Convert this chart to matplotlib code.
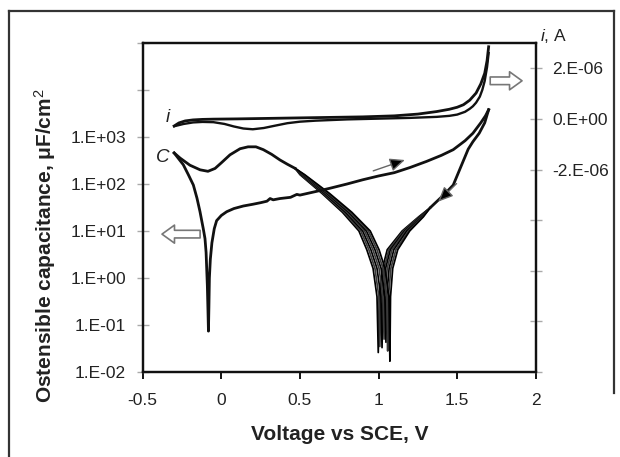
import matplotlib
matplotlib.use("Agg")
import matplotlib.pyplot as plt
from matplotlib.ticker import FixedLocator, FixedFormatter, NullLocator
from matplotlib.lines import Line2D

plt.rcParams['font.family'] = ['Liberation Sans', 'DejaVu Sans']
plt.rcParams['mathtext.fontset'] = 'custom'
plt.rcParams['mathtext.rm'] = 'Liberation Sans'
plt.rcParams['mathtext.it'] = 'Liberation Sans:italic'
plt.rcParams['mathtext.bf'] = 'Liberation Sans:bold'

# ---- capacitance, anodic sweep (-0.3 V -> 1.7 V), uF/cm2 ----
cap_fwd_v = [-0.30, -0.27, -0.242, -0.21, -0.178, -0.155, -0.136, -0.115, -0.104,
             -0.097, -0.089, -0.085, -0.082, -0.079, -0.076, -0.070, -0.060, -0.045,
             -0.030, 0.0, 0.034, 0.08, 0.14, 0.20, 0.25, 0.29, 0.31, 0.33, 0.373,
             0.44, 0.48, 0.50, 0.60, 0.69, 0.80, 0.90, 1.00, 1.10, 1.20, 1.305,
             1.40, 1.475, 1.55, 1.60, 1.65, 1.68, 1.70]
cap_fwd_c = [457, 339, 257, 158, 95, 50, 26, 11.2, 6.9,
             3.5, 0.69, 0.2, 0.074, 0.25, 1.0, 2.5, 5.6, 11.2,
             16.6, 21.4, 25.7, 30, 34, 37, 40, 43, 49, 46, 49,
             52, 60, 58, 69, 81, 100, 123, 148, 174, 224, 302,
             407, 537, 832, 1200, 2000, 2820, 3800]

# ---- capacitance, cathodic sweep: upper part (1.7 V -> 1.33 V) ----
cap_rev_top_v = [1.70, 1.675, 1.64, 1.60, 1.57, 1.53, 1.50, 1.475, 1.43, 1.39, 1.33]
cap_rev_top_c = [3800, 2000, 1200, 794, 550, 263, 151, 95, 66, 49, 31.6]

# ---- cathodic sweep, lower part (0.47 V -> -0.3 V) ----
cap_rev_low_v = [0.47, 0.42, 0.373, 0.32, 0.267, 0.22, 0.17, 0.119, 0.055, 0.0,
                 -0.04, -0.085, -0.135, -0.20, -0.262, -0.30]
cap_rev_low_c = [214, 263, 324, 427, 537, 617, 617, 562, 417, 282,
                 214, 186, 200, 251, 355, 457]

# ---- repeated cycles around the second minimum ----
cyc_right_c = [20, 10, 4.0, 1.6, 0.4]
cyc_right_v = [
    [1.255, 1.150, 1.055, 1.025, 1.005],
    [1.260, 1.157, 1.065, 1.035, 1.015],
    [1.265, 1.165, 1.075, 1.045, 1.028],
    [1.270, 1.172, 1.085, 1.055, 1.040],
    [1.275, 1.180, 1.097, 1.067, 1.052],
    [1.280, 1.190, 1.110, 1.078, 1.063],
    [1.285, 1.198, 1.122, 1.090, 1.076],
]
cyc_min_v = [0.998, 1.008, 1.022, 1.035, 1.047, 1.058, 1.072]
cyc_min_c = [0.026, 0.035, 0.033, 0.050, 0.043, 0.028, 0.017]
cyc_left_c = [0.4, 1.6, 4.0, 10, 25, 63, 158]
cyc_left_v = [
    [0.990, 0.965, 0.925, 0.875, 0.770, 0.640, 0.500],
    [1.002, 0.977, 0.938, 0.887, 0.780, 0.648, 0.505],
    [1.015, 0.990, 0.951, 0.899, 0.790, 0.656, 0.510],
    [1.028, 1.003, 0.964, 0.911, 0.800, 0.664, 0.515],
    [1.040, 1.016, 0.977, 0.923, 0.810, 0.672, 0.520],
    [1.052, 1.028, 0.990, 0.935, 0.820, 0.680, 0.525],
    [1.066, 1.041, 1.003, 0.947, 0.830, 0.688, 0.530],
]

# ---- current, A ----
cur_fwd_v = [-0.30, -0.27, -0.23, -0.18, -0.12, -0.05, 0.10, 0.30, 0.50, 0.70, 0.90,
             1.10, 1.25, 1.37, 1.45, 1.50, 1.54, 1.58, 1.62, 1.65, 1.675, 1.69, 1.70]
cur_fwd_i = [-0.28e-6, -0.16e-6, -0.08e-6, -0.04e-6, -0.02e-6, -0.01e-6, 0.0, 0.02e-6,
             0.04e-6, 0.06e-6, 0.08e-6, 0.12e-6, 0.19e-6, 0.29e-6, 0.38e-6, 0.46e-6,
             0.56e-6, 0.74e-6, 1.02e-6, 1.38e-6, 1.80e-6, 2.30e-6, 2.85e-6]
cur_rev_v = [1.70, 1.69, 1.675, 1.66, 1.644, 1.62, 1.60, 1.58, 1.55, 1.50, 1.45, 1.37,
             1.20, 1.00, 0.80, 0.60, 0.50, 0.42, 0.34, 0.27, 0.20, 0.14, 0.08, 0.02,
             -0.05, -0.12, -0.18, -0.24, -0.30]
cur_rev_i = [2.60e-6, 2.05e-6, 1.50e-6, 1.15e-6, 0.88e-6, 0.64e-6, 0.50e-6, 0.40e-6,
             0.28e-6, 0.17e-6, 0.12e-6, 0.08e-6, 0.04e-6, 0.01e-6, -0.02e-6, -0.07e-6,
             -0.11e-6, -0.17e-6, -0.27e-6, -0.36e-6, -0.41e-6, -0.38e-6, -0.30e-6,
             -0.20e-6, -0.13e-6, -0.12e-6, -0.14e-6, -0.20e-6, -0.29e-6]

# ---- axes ticks ----
x_ticks = [-0.5, 0, 0.5, 1, 1.5, 2]
x_tick_labels = ["-0.5", "0", "0.5", "1", "1.5", "2"]
cap_ticks = [1e-2, 1e-1, 1e0, 1e1, 1e2, 1e3, 1e4, 1e5]
cap_tick_labels = ["1.E-02", "1.E-01", "1.E+00", "1.E+01", "1.E+02", "1.E+03", "", ""]
cur_ticks = [-1e-5, -8e-6, -6e-6, -4e-6, -2e-6, 0.0, 2e-6]
cur_tick_labels = ["", "", "", "", "-2.E-06", "0.E+00", "2.E-06"]

# sweep-direction arrows (tail, head) in data units
fwd_arrow = ((0.966, 190), (1.167, 324))
rev_arrow = ((1.496, 102), (1.379, 42))

LINE = '#111111'

fig = plt.figure(figsize=(6.2, 4.57), dpi=100)
ax = fig.add_axes([0.2302, 0.186, 0.634, 0.720])
ax2 = ax.twinx()

ax.set_xlim(-0.5, 2)
ax.set_yscale('log')
ax.set_ylim(1e-2, 1e5)
ax2.set_ylim(-1e-5, 3e-6)

# capacitance
for k in range(len(cyc_min_v)):
    vs = [cap_rev_top_v[-1]] + cyc_right_v[k] + [cyc_min_v[k]] + cyc_left_v[k] + [cap_rev_low_v[0]]
    cs = [cap_rev_top_c[-1]] + cyc_right_c + [cyc_min_c[k]] + cyc_left_c + [cap_rev_low_c[0]]
    ax.plot(vs, cs, color=('#000000' if k % 2 == 0 else '#3a3a3a'), lw=1.25)
ax.plot(cap_fwd_v, cap_fwd_c, color=LINE, lw=2.0, solid_joinstyle='round')
ax.plot(cap_rev_top_v, cap_rev_top_c, color=LINE, lw=2.0, solid_joinstyle='round')
ax.plot(cap_rev_low_v, cap_rev_low_c, color=LINE, lw=2.0, solid_joinstyle='round')

# current
ax2.plot(cur_fwd_v, cur_fwd_i, color=LINE, lw=2.0)
ax2.plot(cur_rev_v, cur_rev_i, color=LINE, lw=1.7)

# ticks and labels
ax.xaxis.set_major_locator(FixedLocator(x_ticks))
ax.xaxis.set_major_formatter(FixedFormatter(x_tick_labels))
ax.yaxis.set_major_locator(FixedLocator(cap_ticks))
ax.yaxis.set_major_formatter(FixedFormatter(cap_tick_labels))
ax.yaxis.set_minor_locator(NullLocator())
ax2.yaxis.set_major_locator(FixedLocator(cur_ticks))
ax2.yaxis.set_major_formatter(FixedFormatter(cur_tick_labels))

ax.tick_params(axis='x', direction='out', length=5, width=1.3, color='black',
               pad=10, labelsize=12.5, labelcolor='#222222')
ax.tick_params(axis='y', direction='inout', length=8, width=1.0, color='#aaaaaa',
               pad=8, labelsize=12.5, labelcolor='#222222')
ax2.tick_params(axis='y', direction='inout', length=8, width=1.0, color='#aaaaaa',
                pad=8, labelsize=12.5, labelcolor='#222222')

for a in (ax, ax2):
    for s in a.spines.values():
        s.set_linewidth(1.6)
        s.set_color('#111111')

ax.set_xlabel('Voltage vs SCE, V', fontsize=15, fontweight='bold', color='#222222', va='center')
ax.xaxis.set_label_coords(0.5, -0.19)
ax.set_ylabel('Ostensible capacitance, μF/cm$^{2}$', fontsize=15, fontweight='bold',
              color='#222222', va='center')
ax.yaxis.set_label_coords(-0.249, 0.383)

ax.text(1.011, 1.021, '$i$, A', transform=ax.transAxes, fontsize=12.5, ha='left',
        va='center', color='#222222')
ax.text(0.064, 0.772, 'i', transform=ax.transAxes, fontsize=13.5, style='italic',
        ha='center', va='center', color='#222222')
ax.text(0.052, 0.653, 'C', transform=ax.transAxes, fontsize=13.5, style='italic',
        ha='center', va='center', color='#222222')

# hollow block arrows pointing to each axis
block = dict(arrowstyle='simple,head_length=0.9,head_width=1.3,tail_width=0.55',
             fc='white', ec='#777777', lw=1.2, shrinkA=0, shrinkB=0, mutation_scale=10)
ax.annotate('', xy=(0.049, 0.419), xytext=(0.146, 0.419), xycoords='axes fraction',
            arrowprops=block)
ax.annotate('', xy=(0.965, 0.885), xytext=(0.884, 0.885), xycoords='axes fraction',
            arrowprops=block, annotation_clip=False)

# sweep direction arrows
sweep = dict(arrowstyle='-|>,head_length=0.45,head_width=0.2', color='#666666',
             fc='black', lw=1.0, shrinkA=0, shrinkB=0, mutation_scale=20)
ax.annotate('', xy=fwd_arrow[1], xytext=fwd_arrow[0], arrowprops=sweep)
ax.annotate('', xy=rev_arrow[1], xytext=rev_arrow[0], arrowprops=sweep)

# outer frame
frame = dict(color='#333333', lw=1.6, transform=fig.transFigure)
x_l, x_r, y_t, y_b = 9 / 620, 614 / 620, 1 - 10.7 / 457, 1 - 393 / 457
fig.add_artist(Line2D([x_l, x_l], [0, y_t], **frame))
fig.add_artist(Line2D([x_l, x_r], [y_t, y_t], **frame))
fig.add_artist(Line2D([x_r, x_r], [y_t, y_b], **frame))

fig.savefig('out.png', dpi=100)
